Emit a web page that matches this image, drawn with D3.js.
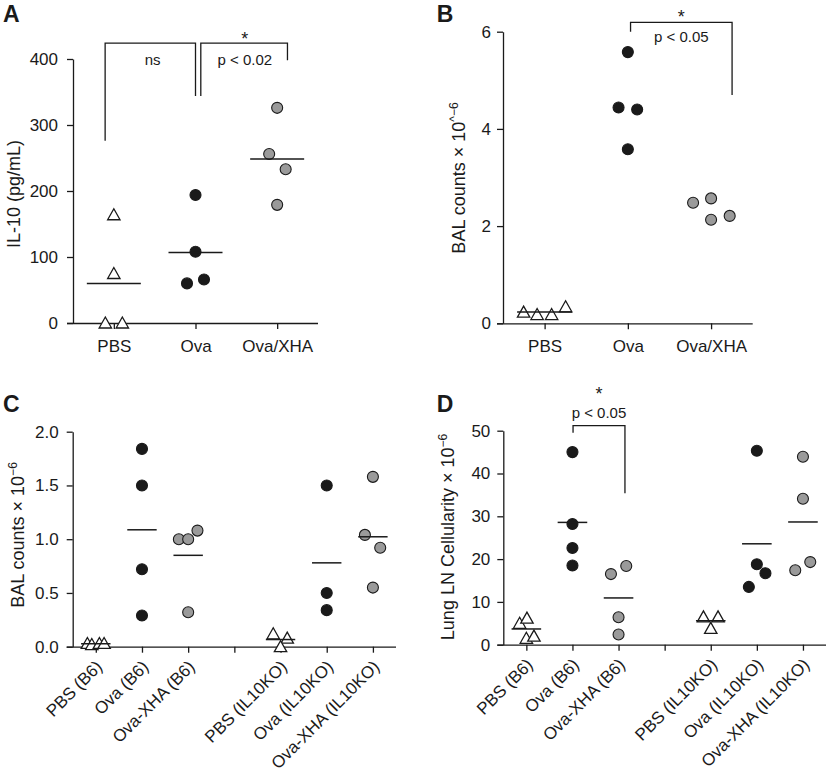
<!DOCTYPE html>
<html><head><meta charset="utf-8">
<script src="https://cdn.jsdelivr.net/npm/d3@7"></script>
<style>
body{margin:0;background:#fff}
svg{display:block}
text{font-family:"Liberation Sans",Arial,Helvetica,sans-serif;fill:#1a1a1a}
</style>
</head><body>
<svg id="chart" width="827" height="775"></svg>
<script>
// ---------------- DATA ----------------
// Panel A : IL-10 (pg/mL)
const aCategories = ["PBS", "Ova", "Ova/XHA"];
const aValues = [[164, 75, 0, 0], [194, 108, 60, 66], [326, 256, 233, 179]];
const aJitter = [[0, 0, -8.5, 8.5], [0, 0, -8.5, 8.5], [0, -8, 8.5, 0]];
const aTicks = [0, 100, 200, 300, 400];
const aShowMean = [true, true, true];

// Panel B : BAL counts
const bCategories = ["PBS", "Ova", "Ova/XHA"];
const bValues = [[0.23, 0.18, 0.18, 0.34], [5.58, 4.44, 4.40, 3.58], [2.48, 2.57, 2.13, 2.21]];
const bJitter = [[-21, -7.5, 7, 21], [0, -9.3, 9.3, 0], [-18, 0, 0, 18.6]];
const bTicks = [0, 2, 4, 6];
const bShowMean = [true, false, false];

// Panel C : BAL counts, B6 vs IL10KO
const cCategories = ["PBS (B6)", "Ova (B6)", "Ova-XHA (B6)", "", "PBS (IL10KO)", "Ova (IL10KO)", "Ova-XHA (IL10KO)"];
const cValues = [[0.03, 0.02, 0.03, 0.03], [1.84, 1.50, 0.72, 0.29], [1.00, 1.00, 1.08, 0.32], [],
                 [0.12, 0.08, 0.0], [1.50, 0.50, 0.34], [1.58, 1.04, 0.92, 0.55]];
const cJitter = [[-8.4, -4, 3.6, 8.3], [0, 0, 0, 0], [-9.3, 0, 9.3, 0], [],
                 [-7.3, 6.7, 0], [0, 0, 0], [0, -8, 7.3, 0]];
const cTicks = [0, 0.5, 1.0, 1.5, 2.0];
const cShowMean = [true, true, true, false, true, true, true];

// Panel D : Lung LN cellularity
const dCategories = cCategories;
const dValues = [[5.0, 6.2, 1.5, 2.0], [45.0, 28.2, 22.6, 18.5], [16.5, 18.4, 6.4, 2.4], [],
                 [6.5, 6.5, 3.8], [45.3, 18.8, 16.7, 13.5], [43.9, 34.1, 17.4, 19.3]];
const dJitter = [[-6.7, 0.6, 0, 7.6], [0, 0, 0, 0], [-7.6, 7.7, 0, 0], [],
                 [-7.3, 7.3, 0], [0, 0, 8.6, -8], [0, 0, -7.7, 7.3]];
const dTicks = [0, 10, 20, 30, 40, 50];
const dShowMean = [true, true, true, false, true, true, true];

// marker kind per group: 0 = open triangle, 1 = black circle, 2 = grey circle
const abMarkers = [0, 1, 2];
const cdMarkers = [0, 1, 2, -1, 0, 1, 2];

// significance brackets (value units)
const aBrackets = [
  {from: "PBS", to: "Ova", top: 424, leftEnd: 276, rightEnd: 344, label: "ns", star: ""},
  {from: "Ova", to: "Ova/XHA", top: 424, leftEnd: 344, rightEnd: 398, label: "p < 0.02", star: "*"}
];
const bBrackets = [
  {from: "Ova", to: "Ova/XHA", top: 6.19, leftEnd: 6.0, rightEnd: 4.7, label: "p < 0.05", star: "*"}
];
const dBrackets = [
  {from: "Ova (B6)", to: "Ova-XHA (B6)", top: 51.2, leftEnd: 49.5, rightEnd: 35.4, label: "p < 0.05", star: "*"}
];

// ---------------- DRAW ----------------
const svg = d3.select("#chart");
svg.append("rect").attr("width", 827).attr("height", 775).attr("fill", "#fff");

const INK = "#1a1a1a", GREY = "#9a9a9a";

function drawPanel(cfg) {
  const g = svg.append("g");
  const keys = cfg.categories.map((c, i) => c === "" ? "__gap" + i : c);
  const x = d3.scalePoint().domain(keys).range(cfg.xRange).padding(0.5);
  const y = d3.scaleLinear().domain(cfg.yDomain).range(cfg.yRange);
  const y0 = cfg.yRange[0];

  // y axis
  const ya = g.append("g").attr("transform", `translate(${cfg.xRange[0]},0)`)
    .call(d3.axisLeft(y).tickValues(cfg.ticks).tickFormat(cfg.fmt)
      .tickSize(6).tickSizeOuter(0).tickPadding(cfg.yPad));
  ya.selectAll("path,line").attr("stroke", INK).attr("stroke-width", 1.3);
  ya.selectAll("text").attr("font-size", 17).attr("fill", INK)
    .attr("font-family", '"Liberation Sans",Arial,sans-serif');

  // x axis
  g.append("line").attr("x1", cfg.xRange[0] - 6).attr("x2", cfg.xRange[1])
    .attr("y1", y0 + 0.5).attr("y2", y0 + 0.5).attr("stroke", INK).attr("stroke-width", 1.3);
  const xa = g.append("g").attr("transform", `translate(0,${y0})`)
    .call(d3.axisBottom(x).tickSize(6).tickSizeOuter(0).tickPadding(11)
      .tickFormat((d, i) => cfg.categories[i]));
  xa.select(".domain").remove();
  xa.selectAll("line").attr("stroke", INK).attr("stroke-width", 1.3);
  xa.selectAll("text").attr("font-size", 17).attr("fill", INK)
    .attr("font-family", '"Liberation Sans",Arial,sans-serif');
  if (cfg.rotate) {
    xa.selectAll("text").attr("x", 0).attr("y", 0).attr("dy", 0)
      .attr("text-anchor", "end").attr("transform", "translate(7,21) rotate(-45)");
  }

  // points
  const tri = "M0,-6L6.2,5L-6.2,5Z";
  cfg.values.forEach((vals, gi) => {
    const cx = x(keys[gi]);
    const kind = cfg.markers[gi];
    vals.forEach((v, pi) => {
      const px = cx + cfg.jitter[gi][pi], py = y(v);
      if (kind === 0) {
        g.append("path").attr("d", tri).attr("transform", `translate(${px},${py})`)
          .attr("fill", "#fff").attr("stroke", INK).attr("stroke-width", 1.3);
      } else {
        g.append("circle").attr("cx", px).attr("cy", py).attr("r", 5.5)
          .attr("fill", kind === 1 ? INK : GREY).attr("stroke", INK).attr("stroke-width", 1.1);
      }
    });
  });

  // mean lines
  cfg.values.forEach((vals, gi) => {
    if (!cfg.showMean[gi] || !vals.length) return;
    const cx = x(keys[gi]), m = d3.mean(vals);
    g.append("line").attr("x1", cx - cfg.meanHalf).attr("x2", cx + cfg.meanHalf)
      .attr("y1", y(m)).attr("y2", y(m)).attr("stroke", INK).attr("stroke-width", 1.5);
  });

  // brackets
  cfg.brackets.forEach((b, bi) => {
    const off = cfg.bracketOffsets[bi];
    const x1 = x(b.from) + off[0], x2 = x(b.to) + off[1];
    const yt = y(b.top);
    g.append("path")
      .attr("d", `M${x1},${y(b.leftEnd)}V${yt}H${x2}V${y(b.rightEnd)}`)
      .attr("fill", "none").attr("stroke", INK).attr("stroke-width", 1.3);
    const mx = (x1 + x2) / 2 + (off[2] || 0);
    g.append("text").attr("x", mx).attr("y", yt + cfg.labelDy).attr("text-anchor", "middle")
      .attr("font-size", 15).text(b.label);
    if (b.star) g.append("text").attr("x", mx).attr("y", yt + cfg.starDy).attr("text-anchor", "middle")
      .attr("font-size", 18).text(b.star);
  });

  // y title
  const t = g.append("text").attr("text-anchor", "middle").attr("font-size", 18)
    .attr("transform", `translate(${cfg.titleX},${cfg.titleY}) rotate(-90)`);
  t.append("tspan").text(cfg.title);
  if (cfg.sup) t.append("tspan").attr("dy", "-0.55em").attr("font-size", 12).text(cfg.sup);

  // panel letter
  svg.append("text").attr("x", cfg.letterX).attr("y", cfg.letterY)
    .attr("font-size", 23).attr("font-weight", "bold").text(cfg.letter);
}

drawPanel({
  letter: "A", letterX: 3, letterY: 21.7,
  categories: aCategories, values: aValues, jitter: aJitter, markers: abMarkers, showMean: aShowMean,
  yDomain: [0, 400], ticks: aTicks, fmt: d3.format("d"), yPad: 9,
  xRange: [73, 318], yRange: [323, 59], meanHalf: 27, rotate: false,
  brackets: aBrackets, bracketOffsets: [[-8.7, 0, 2.3], [5.3, 10.3, 0.7]], labelDy: 21.5, starDy: 2,
  title: "IL-10 (pg/mL)", sup: "", titleX: 20, titleY: 194
});

drawPanel({
  letter: "B", letterX: 436.7, letterY: 21.7,
  categories: bCategories, values: bValues, jitter: bJitter, markers: abMarkers, showMean: bShowMean,
  yDomain: [0, 6], ticks: bTicks, fmt: d3.format("d"), yPad: 6,
  xRange: [503, 752.7], yRange: [323.3, 31.7], meanHalf: 27.5, rotate: false,
  brackets: bBrackets, bracketOffsets: [[2.7, 21, 0]], labelDy: 20, starDy: 0.6,
  title: "BAL counts \u00d7 10", sup: "^\u22126", titleX: 465, titleY: 178
});

drawPanel({
  letter: "C", letterX: 3, letterY: 411.7,
  categories: cCategories, values: cValues, jitter: cJitter, markers: cdMarkers, showMean: cShowMean,
  yDomain: [0, 2], ticks: cTicks, fmt: d3.format(".1f"), yPad: 8,
  xRange: [72.7, 396], yRange: [646.7, 431.7], meanHalf: 14.7, rotate: true,
  brackets: [], bracketOffsets: [], labelDy: 0, starDy: 0,
  title: "BAL counts \u00d7 10", sup: "\u22126", titleX: 24, titleY: 535
});

drawPanel({
  letter: "D", letterX: 436.7, letterY: 411.7,
  categories: dCategories, values: dValues, jitter: dJitter, markers: cdMarkers, showMean: dShowMean,
  yDomain: [0, 50], ticks: dTicks, fmt: d3.format("d"), yPad: 7,
  xRange: [503.3, 826], yRange: [644.7, 430.7], meanHalf: 14.8, rotate: true,
  brackets: dBrackets, bracketOffsets: [[0.6, 6.4, 0]], labelDy: -7.5, starDy: -25.5,
  title: "Lung LN Cellularity \u00d7 10", sup: "\u22126", titleX: 454, titleY: 537
});
</script>
</body></html>
